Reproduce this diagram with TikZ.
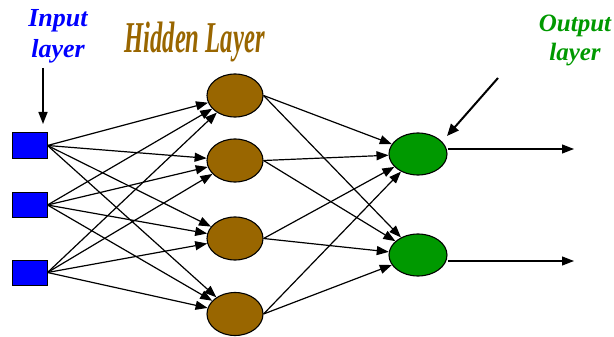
\documentclass[tikz,border=0pt]{standalone}
\usepackage{fontspec}
\setmainfont{Liberation Serif}
\usetikzlibrary{shapes.geometric,arrows.meta}
\definecolor{inblue}{HTML}{0000FF}
\definecolor{hbrown}{HTML}{996600}
\definecolor{ogreen}{HTML}{009900}
\begin{document}
\begin{tikzpicture}[x=1pt,y=-1pt,
  inbox/.style={draw=black,line width=1pt,fill=inblue,minimum width=35pt,minimum height=25pt,inner sep=0pt},
  hnode/.style={ellipse,draw=black,line width=1.1pt,fill=hbrown,minimum width=56pt,minimum height=43pt,inner sep=0pt},
  onode/.style={ellipse,draw=black,line width=1.1pt,fill=ogreen,minimum width=58pt,minimum height=42pt,inner sep=0pt},
  conn/.style={line width=1.2pt,-{Triangle[length=12pt,width=9pt]}},
  lbl/.style={inner sep=0pt,align=center,font=\bfseries\itshape\fontsize{26}{31}\selectfont}]
\useasboundingbox (0,0) rectangle (614,337);
% labels
\node[lbl,text=inblue,anchor=north] (tin) at (58,9) {Input\\layer};
\node[lbl,text=ogreen,anchor=north,font=\bfseries\itshape\fontsize{25}{29}\selectfont] (tout) at (575,15) {Output\\layer};
\node[inner sep=0pt,anchor=base,text=hbrown] (thid) at (194.5,53) {\scalebox{0.56}[1]{\bfseries\itshape\fontsize{44}{50}\selectfont Hidden Layer}};
% nodes
\node[inbox] (i1) at (29.5,145.5) {};
\node[inbox] (i2) at (29.5,205) {};
\node[inbox] (i3) at (29.5,272.5) {};
\node[hnode] (h1) at (235,95.5) {};
\node[hnode] (h2) at (235,160.5) {};
\node[hnode] (h3) at (235,238.5) {};
\node[hnode] (h4) at (235,314) {};
\node[onode] (o1) at (418,154) {};
\node[onode] (o2) at (418,255) {};
% input arrow
\coordinate (a1) at (43,68);
\coordinate (a2) at (43,124);
\draw[conn,line width=1.6pt] (a1) -- (a2);
% input to hidden
\foreach \i in {1,2,3}{
  \foreach \h in {1,2,3,4}{
    \draw[conn] (i\i.east) -- (h\h);
  }
}
% hidden to output
\foreach \h in {1,2,3,4}{
  \foreach \o in {1,2}{
    \draw[conn] (h\h.east) -- (o\o);
  }
}
% outputs
\coordinate (e1) at (574,149);
\coordinate (e2) at (574,261);
\draw[conn] (o1.east |- e1) -- (e1);
\draw[conn] (o2.east |- e2) -- (e2);
% pointer to output layer
\coordinate (d1) at (498,78);
\coordinate (d2) at (447,136);
\draw[line width=2pt,-{Triangle[length=12pt,width=10pt]}] (d1) -- (d2);
\end{tikzpicture}
\end{document}
